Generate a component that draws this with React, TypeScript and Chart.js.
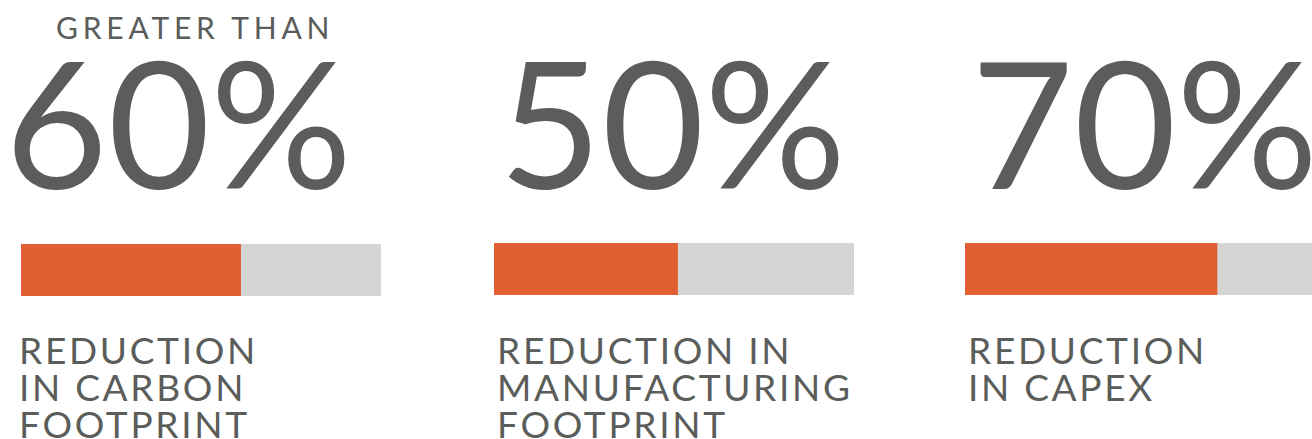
import React, { useEffect, useRef } from "react";
import { Chart, registerables } from "chart.js";

Chart.register(...registerables);

// ---- data ----
const panelValues: number[] = [61, 51, 70];
const trackValues: number[] = [100, 100, 100];
const bigLabels: string[] = ["60%", "50%", "70%"];
const prefixLabels: string[] = ["GREATER THAN", "", ""];
const captionLines: string[][] = [
  ["REDUCTION", "IN CARBON", "FOOTPRINT"],
  ["REDUCTION IN", "MANUFACTURING", "FOOTPRINT"],
  ["REDUCTION", "IN CAPEX"],
];

// ---- style / layout ----
const ORANGE = "#E06033";
const GRAY = "#D5D5D3";
const TEXT = "#5B5D5A";
const FONT = "Lato, 'Open Sans', sans-serif";

const barLeft = [21, 494, 965];
const barTop = [244, 243, 243];
const barW = 360;
const barH = 52;
const bigLeft = [5, 499, 971];
const captionLeft = [19, 497, 968];

function Bar({ idx }: { idx: number }) {
  const ref = useRef<HTMLCanvasElement | null>(null);
  useEffect(() => {
    if (!ref.current) return;
    const chart = new Chart(ref.current, {
      type: "bar",
      data: {
        labels: [captionLines[idx].join(" ")],
        datasets: [
          {
            data: [panelValues[idx]],
            backgroundColor: ORANGE,
            borderWidth: 0,
            grouped: false,
            barPercentage: 1,
            categoryPercentage: 1,
          } as any,
          {
            data: [trackValues[idx]],
            backgroundColor: GRAY,
            borderWidth: 0,
            grouped: false,
            barPercentage: 1,
            categoryPercentage: 1,
          } as any,
        ],
      },
      options: {
        indexAxis: "y",
        responsive: false,
        maintainAspectRatio: false,
        animation: false,
        layout: { padding: 0 },
        plugins: { legend: { display: false }, tooltip: { enabled: false }, title: { display: false } },
        scales: {
          x: { min: 0, max: 100, display: false },
          y: { display: false },
        },
      },
    });
    return () => chart.destroy();
  }, [idx]);
  return (
    <canvas
      ref={ref}
      width={barW}
      height={barH}
      style={{ position: "absolute", left: barLeft[idx], top: barTop[idx], width: barW, height: barH }}
    />
  );
}

export default function App() {
  return (
    <div
      style={{
        position: "absolute",
        left: 0,
        top: 0,
        width: 1312,
        height: 439,
        overflow: "hidden",
        background: "#fff",
        fontFamily: FONT,
        color: TEXT,
      }}
    >
      {panelValues.map((_, i) => (
        <React.Fragment key={i}>
          {prefixLabels[i] && (
            <div
              style={{
                position: "absolute",
                left: 56,
                top: 12,
                fontSize: 30,
                lineHeight: "30px",
                letterSpacing: 4.8,
                whiteSpace: "nowrap",
              }}
            >
              {prefixLabels[i]}
            </div>
          )}
          <div
            style={{
              position: "absolute",
              left: bigLeft[i],
              top: 32,
              fontSize: 177,
              lineHeight: "177px",
              whiteSpace: "nowrap",
            }}
          >
            {bigLabels[i]}
          </div>
          <Bar idx={i} />
          <div
            style={{
              position: "absolute",
              left: captionLeft[i],
              top: 331,
              fontSize: 37,
              lineHeight: "37px",
              letterSpacing: 2.7,
              whiteSpace: "nowrap",
            }}
          >
            {captionLines[i].map((l, j) => (
              <div key={j}>{l}</div>
            ))}
          </div>
        </React.Fragment>
      ))}
    </div>
  );
}
